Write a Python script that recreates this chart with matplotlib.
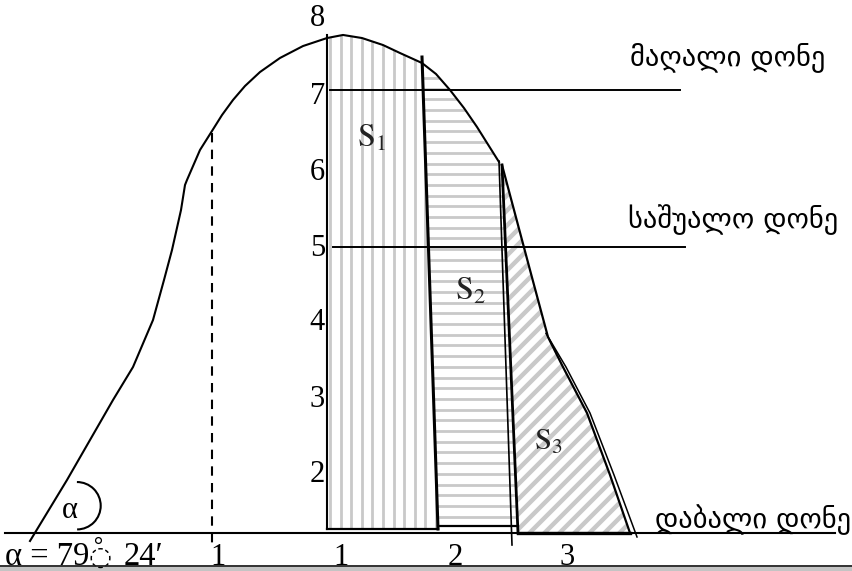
import numpy as np
import matplotlib
matplotlib.use('Agg')
import matplotlib.pyplot as plt
from matplotlib.patches import Polygon, Arc, Rectangle

plt.rcParams['mathtext.fontset'] = 'stix'

# ---------------- data (x = horizontal distance, y = level) ----------------
# profile curve
curve_x = [30, 67, 113, 133, 153, 164, 172, 181, 185, 187, 200, 212, 222, 233,
           245, 260, 280, 303, 327, 343, 362, 383, 400, 422, 436, 450, 464, 477, 499]
curve_y = [1.255, 2.032, 3.051, 3.471, 4.070, 4.580, 4.962, 5.471, 5.790, 5.854,
           6.236, 6.478, 6.681, 6.873, 7.051, 7.229, 7.408, 7.560, 7.662, 7.701,
           7.662, 7.573, 7.471, 7.344, 7.204, 7.000, 6.770, 6.529, 6.083]

# S1 zone (vertical hatch)
s1_x = [327, 327, 343, 362, 383, 400, 422, 438]
s1_y = [1.408, 7.662, 7.701, 7.662, 7.573, 7.471, 7.344, 1.408]
# S2 zone (horizontal hatch)
s2_x = [422, 436, 450, 464, 477, 499, 502, 518, 438]
s2_y = [7.344, 7.204, 7.000, 6.770, 6.529, 6.083, 6.045, 1.446, 1.446]
# S3 zone (diagonal hatch)
s3_x = [502, 530, 548, 563, 587, 610, 630, 518]
s3_y = [6.045, 4.707, 3.853, 3.471, 2.885, 2.096, 1.357, 1.357]
# outer double line along S3
s3_outer_x = [546, 566, 590, 614, 637]
s3_outer_y = [3.900, 3.471, 2.885, 2.096, 1.306]

# dividers
div12_x, div12_y = [422, 438], [7.420, 1.408]
div23_x, div23_y = [499, 512], [6.095, 1.204]
s3_left_x, s3_left_y = [502, 518], [6.045, 1.357]
axis_x, axis_y = [327, 327], [7.701, 1.408]
dash_x, dash_y = [212, 212], [6.452, 1.204]

base_level = 1.357
high_level, mid_level = 7.0, 5.0

level_ticks = ['8', '7', '6', '5', '4', '3', '2']
level_tick_pos = [7.917, 6.911, 5.955, 4.987, 4.032, 3.051, 2.096]
zone_labels = ['1', '1', '2', '3']
zone_label_x = [218, 341, 455, 567]

level_names = ['მაღალი დონე', 'საშუალო დონე', 'დაბალი დონე']
level_name_x = [630, 628, 655]
level_name_y = [7.420, 5.344, 1.522]

angle_parts = ['α = 79', '◌', '24′']
angle_parts_x = [5, 89, 124]

# ---------------- figure ----------------
PX = 78.5  # pixels per level unit
fig = plt.figure(figsize=(8.52, 5.71), dpi=100)
ax = fig.add_axes([0, 0, 1, 1])
ax.set_xlim(0, 852)
ax.set_ylim(0.8726, 8.1465)
ax.axis('off')

def zone(xs, ys):
    p = Polygon(np.column_stack([xs, ys]), closed=True, facecolor='none',
                edgecolor='none', transform=ax.transData)
    ax.add_patch(p)
    return p

stripe_c = '#c9c9c9'
p1 = zone(s1_x, s1_y)
for xv in np.arange(330, 440, 10.6):
    ln, = ax.plot([xv, xv], [1.3, 7.8], color=stripe_c, lw=2.0, zorder=1)
    ln.set_clip_path(p1)

p2 = zone(s2_x, s2_y)
for yv in np.arange(7.153, 1.4, -10.7 / PX):
    ln, = ax.plot([415, 525], [yv, yv], color=stripe_c, lw=2.0, zorder=1)
    ln.set_clip_path(p2)

p3 = zone(s3_x, s3_y)
for x0 in np.arange(60, 660, 15):
    ln, = ax.plot([x0, x0 + (6.2 - 1.3) * PX], [1.3, 6.2], color=stripe_c,
                  lw=3.2, zorder=1)
    ln.set_clip_path(p3)

k = 'black'
ax.plot(curve_x, curve_y, color=k, lw=1.5, zorder=3, solid_joinstyle='round')
ax.plot(s3_x[:7], s3_y[:7], color=k, lw=1.6, zorder=3)
ax.plot(s3_outer_x, s3_outer_y, color=k, lw=1.1, zorder=3)
ax.plot(div12_x, div12_y, color=k, lw=2.2, zorder=3)
ax.plot(div23_x, div23_y, color=k, lw=1.2, zorder=3)
ax.plot(s3_left_x, s3_left_y, color=k, lw=2.0, zorder=3)
ax.plot(axis_x, axis_y, color=k, lw=1.5, zorder=3)
ax.plot([s1_x[0], s1_x[-1]], [s1_y[0], s1_y[0]], color=k, lw=1.6, zorder=3)
ax.plot([s2_x[-1], s2_x[-2]], [s2_y[-1], s2_y[-1]], color=k, lw=1.6, zorder=3)
ax.plot([s3_x[-1], s3_x[-2]], [s3_y[-1], s3_y[-1]], color=k, lw=2.4, zorder=3)
ax.plot([5, 835], [base_level, base_level], color=k, lw=1.5, zorder=3)
ax.plot(dash_x, dash_y, color=k, lw=1.5, dashes=(4.5, 3.5), zorder=3)
ax.plot([330, 680], [high_level, high_level], color=k, lw=1.4, zorder=3)
ax.plot([333, 685], [mid_level, mid_level], color=k, lw=1.4, zorder=3)

# angle arc
ax.add_patch(Arc((77, 1.704), 2 * 23.7, 2 * 23.7 / PX, theta1=-70, theta2=107,
                 color=k, lw=1.5, zorder=3))

serif = ['Liberation Serif', 'DejaVu Serif', 'DejaVu Sans']
for t, yv in zip(level_ticks, level_tick_pos):
    ax.text(325, yv, t, ha='right', va='center', fontsize=22, family=serif)
for t, xv in zip(zone_labels, zone_label_x):
    ax.text(xv, 0.949, t, ha='center', va='baseline', fontsize=22, family=serif)

# angle value text
ax.text(angle_parts_x[0], 0.949, angle_parts[0], ha='left', va='baseline',
        fontsize=23.5, family=serif)
ax.text(angle_parts_x[1], 0.949, angle_parts[1], ha='left', va='baseline',
        fontsize=19, family=['DejaVu Sans'])
ax.plot([97.5], [1.268], marker='o', ms=4.2, mfc='none', mec=k, mew=0.9, zorder=3)
ax.text(angle_parts_x[2], 0.949, angle_parts[2], ha='left', va='baseline',
        fontsize=23.5, family=serif)
ax.text(62, 1.55, 'α', ha='left', va='baseline', fontsize=22, family=serif)

ax.text(357, 6.274, r'$\mathrm{S}_{1}$', ha='left', va='baseline', fontsize=23, color='#222222')
ax.text(455, 4.325, r'$\mathrm{S}_{2}$', ha='left', va='baseline', fontsize=23, color='#222222')
ax.text(534, 2.414, r'$\mathrm{S}_{3}$', ha='left', va='baseline', fontsize=22, color='#222222')

for t, xv, yv in zip(level_names, level_name_x, level_name_y):
    ax.text(xv, yv, t, ha='left', va='center', fontsize=20.5, family=['DejaVu Sans'])

# bottom band
ax.add_patch(Rectangle((0, 0.8726), 852, 0.052, facecolor='#c4c4c4', edgecolor='none', zorder=2))
ax.plot([0, 852], [0.936, 0.936], color='#222222', lw=1.3, zorder=3)

fig.savefig('out.png', dpi=100)
